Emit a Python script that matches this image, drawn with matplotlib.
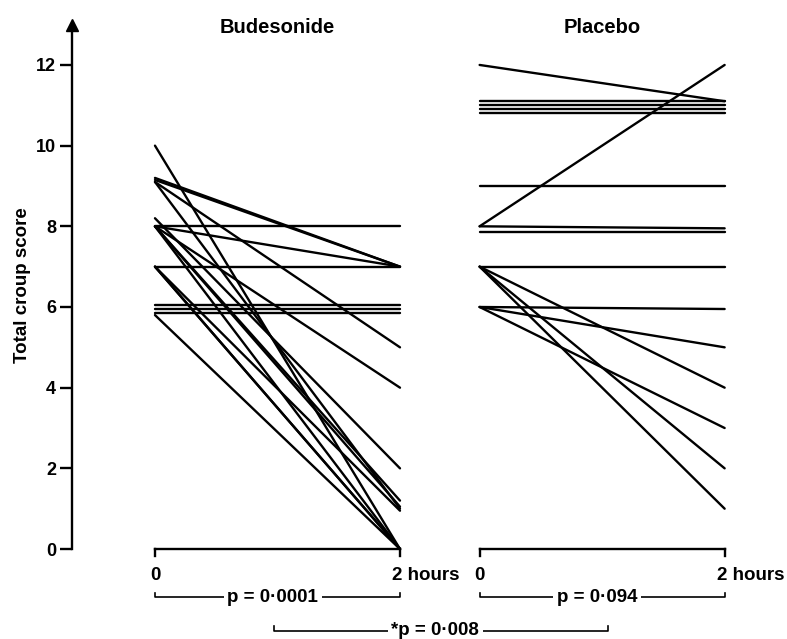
import numpy as np
import matplotlib
matplotlib.use("Agg")
import matplotlib.pyplot as plt

plt.rcParams['font.family'] = ['Liberation Sans', 'DejaVu Sans']
plt.rcParams['font.weight'] = 'bold'

# total croup score per child, at 0 and 2 hours
bud_0h = [10, 9.2, 9.15, 9.1, 9.1, 8.2, 8, 8, 8, 8, 8, 8, 7, 7, 7, 7, 6.05, 5.95, 5.85, 5.8]
bud_2h = [0, 7, 7, 5, 1, 2, 8, 7, 4, 1.2, 0, 1.05, 7, 0, 0, 0.95, 6.05, 5.95, 5.85, 0]

pla_0h = [12, 11.1, 11.0, 10.9, 10.8, 9, 8, 8, 7.85, 7, 7, 7, 7, 6, 6, 6]
pla_2h = [11.1, 11.1, 11.0, 10.9, 10.8, 9, 12, 7.95, 7.85, 7, 4, 2, 1, 5.95, 5, 3]

groups = ["Budesonide", "Placebo"]
p_within = ["p = 0\u00b70001", "p = 0\u00b7094"]
p_between = "*p = 0\u00b7008"
yticks = [0, 2, 4, 6, 8, 10, 12]

offsets = [0, 2.65]   # x start of each panel (hours units)
yaxis_x = -0.678

fig = plt.figure(figsize=(7.87, 6.39), dpi=100)
ax = fig.add_axes([0, 0, 1, 1])
ax.set_xlim(-1.265, 5.159)
ax.set_ylim(-2.23, 13.61)

# y axis
for s in ["top", "right", "bottom"]:
    ax.spines[s].set_visible(False)
ax.spines["left"].set_position(("data", yaxis_x))
ax.spines["left"].set_bounds(0, 12.95)
ax.spines["left"].set_linewidth(1.7)
ax.set_yticks(yticks)
ax.set_yticklabels([str(t) for t in yticks], fontsize=13, fontweight="bold")
ax.tick_params(axis="y", direction="out", length=8.5, width=1.7, pad=3)
ax.set_xticks([])
ax.plot([yaxis_x], [13.0], marker="^", color="k", markersize=8, clip_on=False)
ax.set_ylabel("Total croup score", fontsize=13.5, fontweight="bold")
ax.yaxis.set_label_coords(0.039, 0.554)

lw = 1.7
fs = 13.5
for off, name, y0, y1, ptxt in zip(offsets, groups, [bud_0h, pla_0h], [bud_2h, pla_2h], p_within):
    for a, b in zip(y0, y1):
        ax.plot([off, off + 2], [a, b], color="k", lw=lw, solid_capstyle="round")
    # x axis of panel
    ax.plot([off, off + 2], [0, 0], color="k", lw=1.7)
    for xt in [off, off + 2]:
        ax.plot([xt, xt], [0, -0.17], color="k", lw=1.7)
    ax.text(off, -0.65, "0", ha="center", va="center", fontsize=fs)
    ax.text(off + 2 - 0.065, -0.65, "2 hours", ha="left", va="center", fontsize=fs)
    ax.text(off + 1, 12.92, name, ha="center", va="center", fontsize=14.5)
    # within-group bracket
    ax.plot([off, off, off + 2, off + 2], [-1.09, -1.19, -1.19, -1.09], color="k", lw=1.2)
    ax.text(off + 0.96, -1.19, ptxt, ha="center", va="center", fontsize=fs,
            bbox=dict(facecolor="white", edgecolor="none", pad=2.5))

# between-group bracket
bx0, bx1 = 0.972, 3.7
ax.plot([bx0, bx0, bx1, bx1], [-1.91, -2.03, -2.03, -1.91], color="k", lw=1.2)
ax.text((bx0 + bx1) / 2 - 0.05, -2.03, p_between, ha="center", va="center", fontsize=fs,
        bbox=dict(facecolor="white", edgecolor="none", pad=2.5))

fig.savefig("out.png", dpi=100)
